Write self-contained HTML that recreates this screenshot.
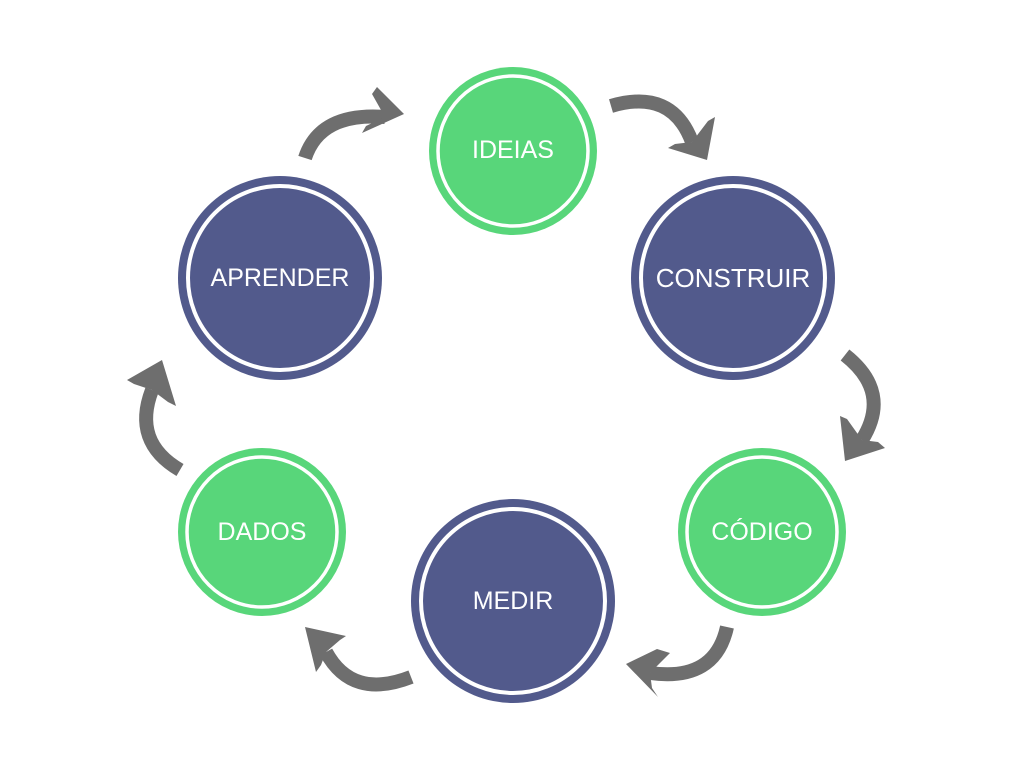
<!DOCTYPE html>
<html><head><meta charset="utf-8"><style>
html,body{margin:0;padding:0;background:#fff;}
svg{display:block}
text{font-family:"Liberation Sans",sans-serif;fill:#fff;text-anchor:middle;dominant-baseline:central}
</style></head><body>
<svg width="1024" height="768" viewBox="0 0 1024 768">
<g>
<circle cx="513" cy="151" r="84" fill="#58d67a"/><circle cx="513" cy="151" r="75" fill="none" stroke="#fff" stroke-width="3.5"/>
<text x="513" y="150" font-size="25">IDEIAS</text>
<circle cx="733" cy="278" r="102" fill="#525a8c"/><circle cx="733" cy="278" r="92" fill="none" stroke="#fff" stroke-width="4"/>
<text x="733" y="278" font-size="26">CONSTRUIR</text>
<circle cx="762" cy="532" r="84" fill="#58d67a"/><circle cx="762" cy="532" r="75" fill="none" stroke="#fff" stroke-width="3.5"/>
<text x="762" y="532" font-size="25">CÓDIGO</text>
<circle cx="513" cy="601" r="102" fill="#525a8c"/><circle cx="513" cy="601" r="92" fill="none" stroke="#fff" stroke-width="4"/>
<text x="513" y="601" font-size="25">MEDIR</text>
<circle cx="262" cy="532" r="84" fill="#58d67a"/><circle cx="262" cy="532" r="75" fill="none" stroke="#fff" stroke-width="3.5"/>
<text x="262" y="532" font-size="25">DADOS</text>
<circle cx="280" cy="278" r="102" fill="#525a8c"/><circle cx="280" cy="278" r="92" fill="none" stroke="#fff" stroke-width="4"/>
<text x="280" y="278" font-size="25">APRENDER</text>
</g>
<g fill="none" stroke="#6e6e6e" stroke-width="14">
<path d="M305,158 Q320,112 385,117"/>
<path d="M611,106 Q672,88 692,142"/>
<path d="M845,355 Q892,392 862,440"/>
<path d="M727,627 Q715,682 650,673"/>
<path d="M411,677 Q352,700 326,652"/>
<path d="M180,470 Q132,442 152,390"/>
</g>
<g fill="#6e6e6e">
<polygon points="377,87 404,114 362,133 366,126 385,117 372,94"/>
<polygon points="715,117 707,160 668,148 675,144 692,142 708,121"/>
<polygon points="840,416 845,461 885,448 878,442 862,440 847,419"/>
<polygon points="657,649 626,664 658,697 652,688 650,673 670,653"/>
<polygon points="346,636 305,627 316,672 321,665 326,652 340,640"/>
<polygon points="127,380 162,360 176,406 168,402 152,390 134,384"/>
</g>
</svg>
</body></html>
